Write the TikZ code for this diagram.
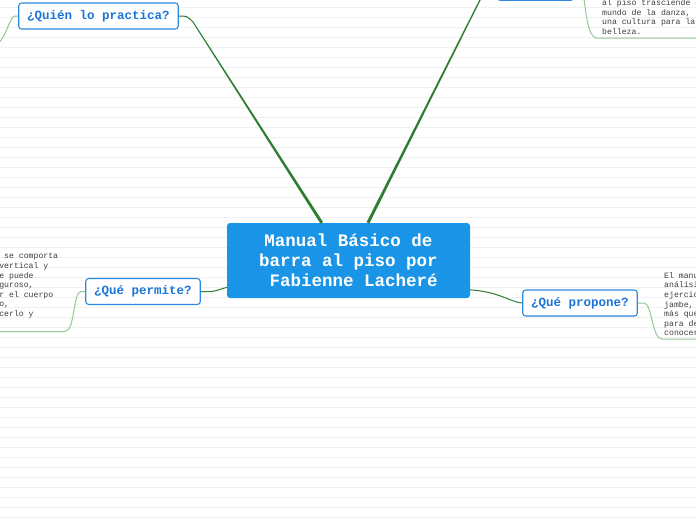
\documentclass[tikz,border=0pt]{standalone}
\usepackage{fontspec}
\newfontfamily\monofam{Liberation Mono}
\usetikzlibrary{calc}
\definecolor{mainblue}{RGB}{26,148,230}
\definecolor{subblue}{RGB}{44,136,224}
\definecolor{subtext}{RGB}{27,117,214}
\definecolor{darkgreen}{RGB}{46,125,50}
\definecolor{lightgreen}{RGB}{150,200,150}
\definecolor{gridline}{RGB}{240,240,240}
\definecolor{leaftext}{RGB}{64,64,64}
\begin{document}
\begin{tikzpicture}[x=1pt,y=-1pt,
  central/.style={rectangle, rounded corners=3pt, fill=mainblue, text=white,
    font=\monofam\bfseries\fontsize{17.5}{20}\selectfont, align=center,
    minimum width=243pt, minimum height=75pt, inner sep=0pt},
  topic/.style={rectangle, rounded corners=3pt, draw=subblue, line width=1.1pt,
    fill=white, text=subtext, font=\monofam\bfseries\fontsize{12.5}{14}\selectfont,
    minimum height=26pt, inner xsep=8.5pt, inner ysep=0pt},
  leaf/.style={font=\monofam\fontsize{8.17}{9.6}\selectfont, text=leaftext,
    align=left, inner sep=0pt, anchor=north west},
  mainlink/.style={draw=darkgreen, line width=1pt},
  leaflink/.style={draw=lightgreen, line width=1pt}]
\useasboundingbox (0,0) rectangle (696,520);
\fill[white] (0,0) rectangle (696,520);
\clip (0,0) rectangle (696,520);
\foreach \k in {0,...,51}
  \draw[gridline, line width=0.7pt] (0,{7.3+10*\k}) -- (696,{7.3+10*\k});

% nodes
\node[central] (c) at (348.5,260.5) {Manual Básico de~\\barra al piso por~\\~Fabienne Lacheré};
\node[topic] (q) at (98.5,16) {¿Quién lo practica?};
\node[topic] (pe) at (143,291.5) {¿Qué permite?};
\node[topic] (pr) at (580,303) {¿Qué propone?};
\node[topic, minimum width=77pt] (t) at (535.5,-12.7) {};

% anchor points on the central node
\coordinate (cq) at ($(c.north west)!0.39!(c.north east)$);
\coordinate (ct) at ($(c.north west)!0.58!(c.north east)$);
\coordinate (cl) at ($(c.north west)+(0,64.5)$);
\coordinate (cr) at ($(c.north east)+(0,67)$);
\coordinate (qb) at (193,22);
\coordinate (tb) at (483,-6);

% main links (tapered)
\draw[mainlink] (q.east) .. controls (187,16) .. (qb);
\fill[darkgreen] ($(qb)!0.5pt!90:(cq)$) -- ($(cq)!1.5pt!-90:(qb)$)
  -- ($(cq)!1.5pt!90:(qb)$) -- ($(qb)!0.5pt!-90:(cq)$) -- cycle;
\draw[mainlink] (t.west) .. controls (490,-12.7) .. (tb);
\fill[darkgreen] ($(tb)!0.6pt!90:(ct)$) -- ($(ct)!1.5pt!-90:(tb)$)
  -- ($(ct)!1.5pt!90:(tb)$) -- ($(tb)!0.6pt!-90:(ct)$) -- cycle;
\draw[mainlink] (pe.east) .. controls (212,292) .. (cl);
\draw[mainlink] (cr) .. controls (500,292) and (510,302) .. (pr.west);

% leaf links
\draw[leaflink] (q.west) -- (15,16) .. controls (9,16) and (6,42) .. (-6,46) -- (-60,46);
\draw[leaflink] (pe.west) -- (81,291.5) .. controls (73,291.5) and (75,331.5) .. (65,331.5) -- (0,331.5);
\draw[leaflink] (pr.east) -- (644,303) .. controls (652,303) and (652,339) .. (662,339) -- (696,339);
\draw[leaflink] (t.east) -- (580,-12.7) .. controls (586,-12.7) and (584,38) .. (597,38) -- (696,38);

% leaf texts
\node[leaf] (lt1) at (-45,252) {\strut El cuerpo se comporta\\de forma vertical y\\y donde se puede\\siendo riguroso,\\y trabajar el cuerpo\\en el piso,\\para conocerlo y};
\node[leaf] (lt2) at (664,271.3) {\strut El manual propone un\\análisis de los\\ejercicios de rond de\\jambe, tendus y\\más que una técnica\\para desarrollar y\\conocer el cuerpo.};
\node[leaf] (lt3) at (602,-1.2) {\strut al piso trasciende el\\mundo de la danza,\\una cultura para la\\belleza.};
\end{tikzpicture}
\end{document}
